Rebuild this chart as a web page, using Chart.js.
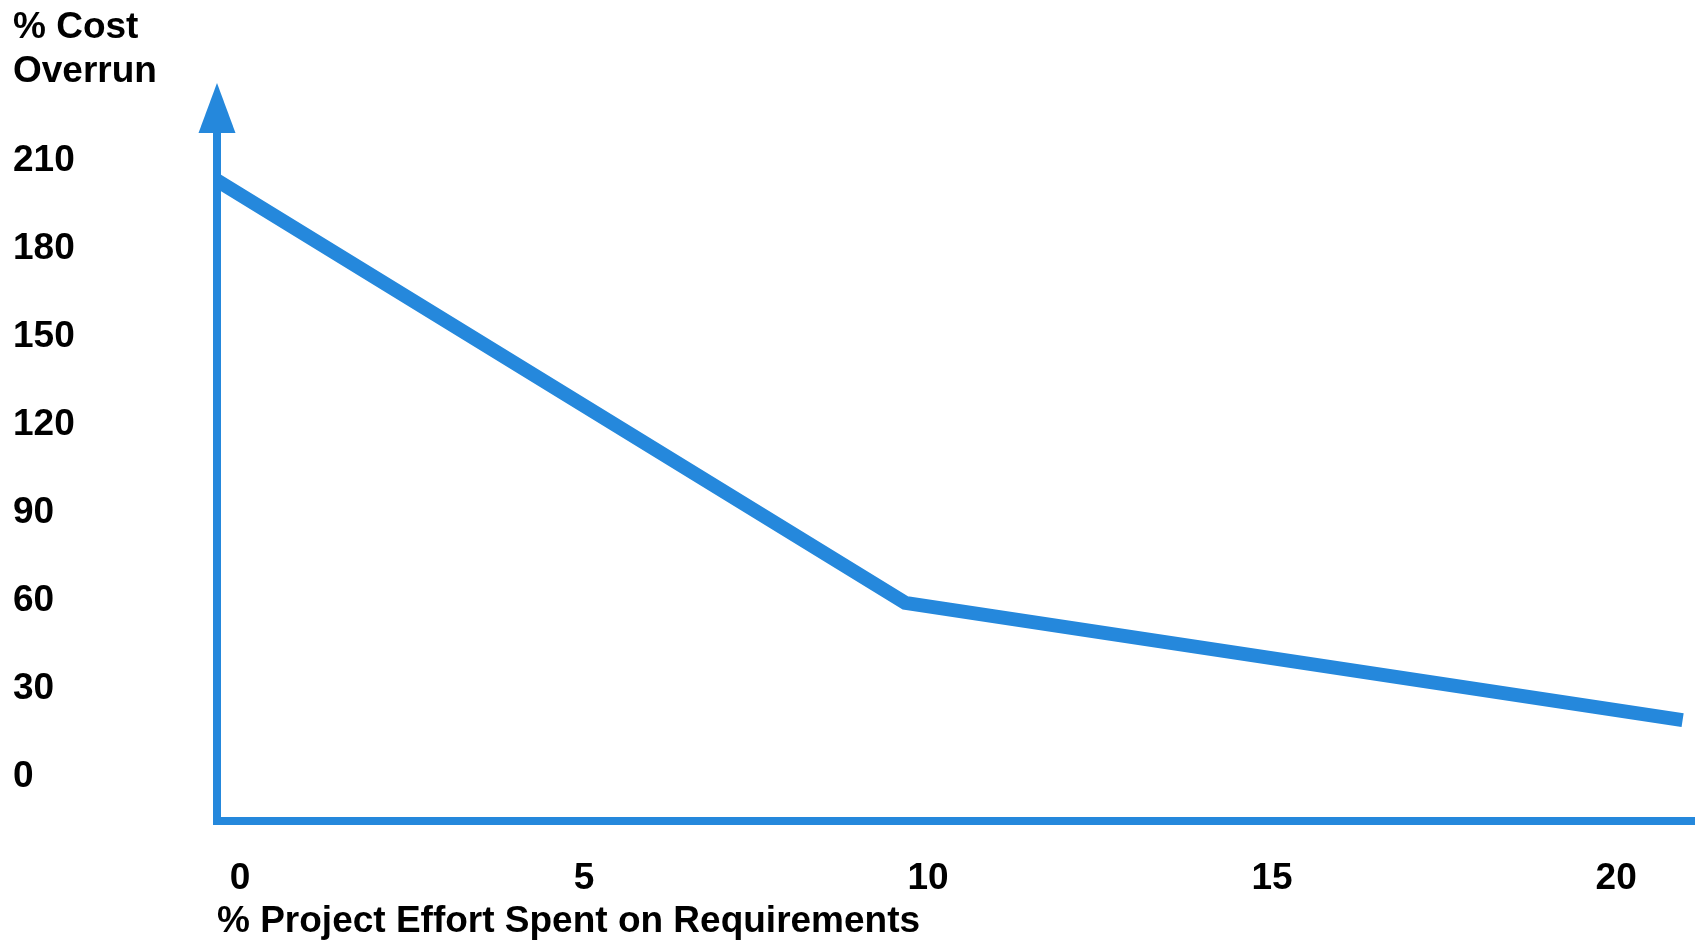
<!DOCTYPE html>
<html>
<head>
<meta charset="utf-8">
<script src="https://cdn.jsdelivr.net/npm/chart.js@4"></script>
<style>
  html, body { margin: 0; padding: 0; background: #fff; }
  #wrap { width: 1695px; height: 940px; }
</style>
</head>
<body>
<div id="wrap"><canvas id="overrunChart"></canvas></div>
<script>
// Cost overrun vs share of effort spent on requirements
const effortPct = [0, 10, 21.3];
const overrunPct = [202, 58, 18];
const xTicks = [0, 5, 10, 15, 20];
const yTicks = [0, 30, 60, 90, 120, 150, 180, 210];

const blue = "#2588dc";
const labelFont = { family: "'Liberation Sans', Arial, sans-serif", size: 37, weight: "bold", lineHeight: 1.2 };

// arrow head on top of the vertical axis
const axisArrow = {
  id: "axisArrow",
  afterDraw(chart) {
    const { ctx, chartArea } = chart;
    const x = chartArea.left;
    const base = chartArea.top;
    ctx.save();
    ctx.fillStyle = blue;
    ctx.beginPath();
    ctx.moveTo(x - 18.5, base);
    ctx.lineTo(x + 18.5, base);
    ctx.lineTo(x, base - 50);
    ctx.closePath();
    ctx.fill();
    ctx.restore();
  },
};

const ctx = document.getElementById("overrunChart").getContext("2d");
new Chart(ctx, {
  type: "line",
  data: {
    datasets: [
      {
        data: effortPct.map((x, i) => ({ x: x, y: overrunPct[i] })),
        borderColor: blue,
        borderWidth: 14,
        pointRadius: 0,
        tension: 0,
        fill: false,
      },
    ],
  },
  options: {
    responsive: true,
    maintainAspectRatio: false,
    animation: false,
    layout: { padding: { left: 13, top: 0, right: 0, bottom: 0 } },
    plugins: {
      legend: { display: false },
      tooltip: { enabled: false },
      title: {
        display: true,
        text: ["% Cost", "Overrun"],
        align: "start",
        color: "#000",
        font: { family: labelFont.family, size: 37, weight: "bold", lineHeight: 1.19 },
        padding: { top: 6, bottom: 39 },
      },
    },
    scales: {
      x: {
        type: "linear",
        min: 0,
        max: 21.48,
        afterBuildTicks: (scale) => {
          scale.ticks = xTicks.map((v) => ({ value: v }));
        },
        afterFit: (scale) => {
          scale.height = 119;
        },
        grid: { drawOnChartArea: false, drawTicks: false },
        border: { color: blue, width: 8 },
        ticks: {
          color: "#000",
          font: labelFont,
          padding: 36,
          labelOffset: 23,
          maxRotation: 0,
        },
        title: {
          display: true,
          text: "% Project Effort Spent on Requirements",
          align: "start",
          color: "#000",
          font: { family: labelFont.family, size: 37, weight: "bold", lineHeight: 1.0 },
          padding: { top: 2, bottom: 0 },
        },
      },
      y: {
        type: "linear",
        min: -16.4,
        max: 218.2,
        afterBuildTicks: (scale) => {
          scale.ticks = yTicks.map((v) => ({ value: v }));
        },
        afterFit: (scale) => {
          scale.width = 204;
        },
        grid: { drawOnChartArea: false, drawTicks: false },
        border: { color: blue, width: 8 },
        ticks: {
          color: "#000",
          font: labelFont,
          crossAlign: "far",
          labelOffset: 4,
        },
      },
    },
  },
  plugins: [axisArrow],
});
</script>
</body>
</html>
